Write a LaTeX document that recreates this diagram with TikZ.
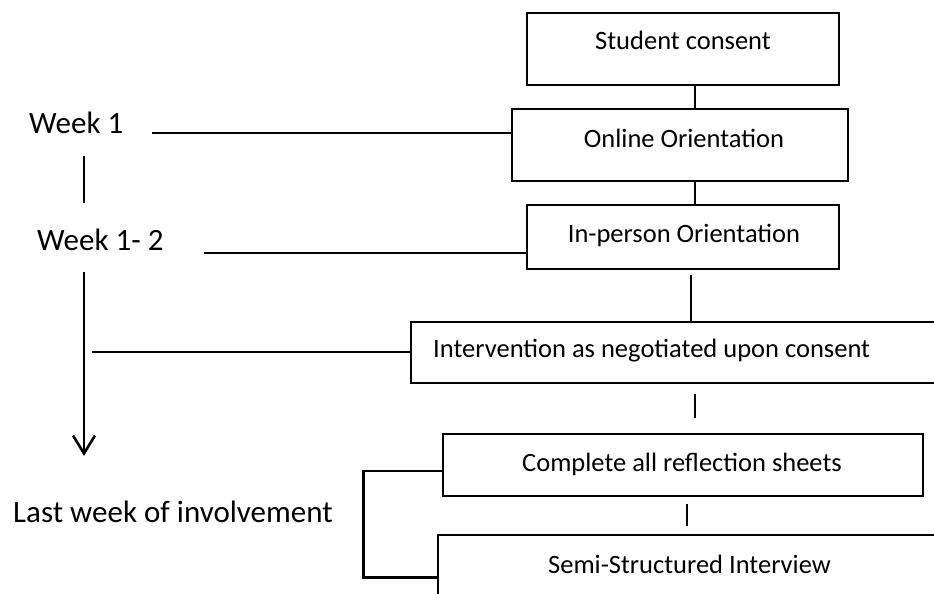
\documentclass[tikz,border=0pt]{standalone}
\usepackage{fontspec}
\setmainfont{Carlito}
\usetikzlibrary{arrows.meta}
\begin{document}
\begin{tikzpicture}[x=1pt,y=-1pt,
  stage/.style 2 args={draw, line width=2.6pt, minimum width=#1, minimum height=#2, inner sep=0pt},
  boxtext/.style={font=\fontsize{26.5}{30}\selectfont, inner sep=0pt, anchor=base},
  weektext/.style={font=\fontsize{31}{36}\selectfont, inner sep=0pt, anchor=base west},
  link/.style={line width=2.6pt}]
\useasboundingbox (0,0) rectangle (934,594);
\clip (0,0) rectangle (934,594);
\fill[white] (0,0) rectangle (934,594);

% stage boxes (the last two run past the page edge)
\node[stage={312pt}{72pt}] (consent)  at (683,49)    {};
\node[stage={336pt}{72pt}] (online)   at (680,145)   {};
\node[stage={312pt}{64pt}] (inperson) at (683,237)   {};
\node[stage={549pt}{61pt}] (interv)   at (685.5,352.5) {};
\node[stage={480pt}{62pt}] (complete) at (683,465)   {};
\node[stage={504pt}{85pt}] (semi)     at (690,577.5) {};

% box captions
\node[boxtext] (consentTxt)  at (683,50)  {Student consent};
\node[boxtext] (onlineTxt)   at (684,147) {Online Orientation};
\node[boxtext] (inpersonTxt) at (684,242) {In-person Orientation};
\node[boxtext, anchor=base west] (intervTxt) at (433,357) {Intervention as negotiated upon consent};
\node[boxtext] (completeTxt) at (682,471) {Complete all reflection sheets};
\node[boxtext, anchor=base west] (semiTxt) at (548,573) {Semi-Structured Interview};

% timeline labels
\node[weektext] (wk1)  at (29,133) {Week 1};
\node[weektext] (wk12) at (37,250) {Week 1- 2};
\node[weektext] (wklast) at (13,522) {Last week of involvement};

% flow between the stages
\draw[link] ([xshift=12pt]consent.south) -- ([xshift=12pt]consent.south |- online.north);
\draw[link] ([xshift=15pt]online.south) -- ([xshift=15pt]online.south |- inperson.north);
\draw[link] ([xshift=8pt,yshift=-5pt]inperson.south) -- ([xshift=8pt]inperson.south |- interv.north);
\draw[link] ([xshift=9.5pt,yshift=-10pt]interv.south) -- ([xshift=9.5pt,yshift=-34pt]interv.south);
\draw[link] ([xshift=4pt,yshift=-7pt]complete.south) -- ([xshift=4pt,yshift=-29pt]complete.south);

% timeline
\coordinate (w1end) at (152,133);
\coordinate (w12end) at (204,253);
\coordinate (tickTop) at (84,156);
\coordinate (tickBot) at (84,203);
\coordinate (axisTop) at (84,272);
\coordinate (axisTip) at (84,456);
\coordinate (intStart) at (92,352);
\draw[link] (w1end) -- (w1end -| online.west);
\draw[link] (w12end) -- (w12end -| inperson.west);
\draw[link] (tickTop) -- (tickBot);
\draw[link, -{Straight Barb[length=18pt,width=22pt]}] (axisTop) -- (axisTip);
\draw[link] (intStart) -- (intStart -| interv.west);

% bracket joining the last two stages
\draw[link] ([yshift=-6pt]complete.west) -- ++(-78,0) |- (semi.west);
\end{tikzpicture}
\end{document}
